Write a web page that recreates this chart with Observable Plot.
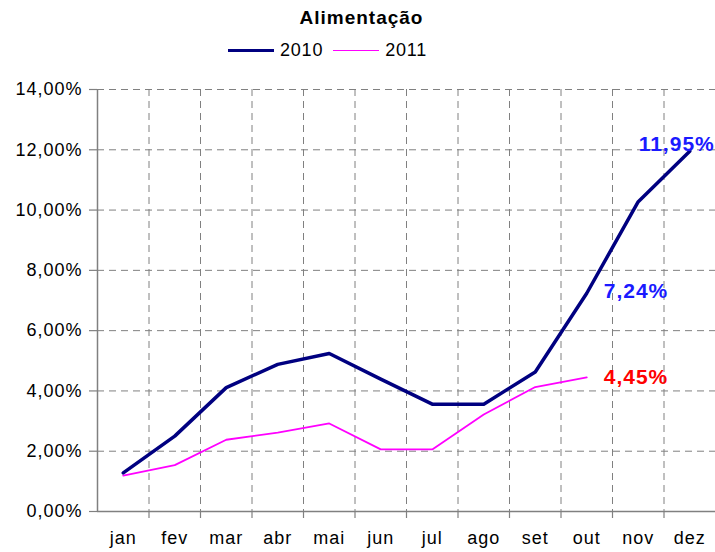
<!DOCTYPE html>
<html><head><meta charset="utf-8">
<script src="https://cdn.jsdelivr.net/npm/d3@7"></script>
<script src="https://cdn.jsdelivr.net/npm/@observablehq/plot@0.6"></script>
<style>
body{margin:0;background:#fff;font-family:"Liberation Sans",Arial,sans-serif;color:#000;}
#wrap{width:715px;position:relative;}
#head{height:70px;position:relative;}
#title{position:absolute;left:4px;width:715px;top:7px;text-align:center;font-weight:bold;font-size:19px;line-height:22px;letter-spacing:1px;}
#legend{position:absolute;top:39px;left:228px;height:22px;display:flex;align-items:center;font-size:18px;line-height:22px;letter-spacing:0.8px;}
.sw{display:inline-block;width:46px;margin-right:6px;}
.lt{margin-right:10px;}
svg text{letter-spacing:1px;}
</style></head><body>
<div id="wrap">
  <div id="head">
    <div id="title">Alimentação</div>
    <div id="legend"></div>
  </div>
  <div id="chart"></div>
</div>
<script>
const months = ["jan","fev","mar","abr","mai","jun","jul","ago","set","out","nov","dez"];
const series = ["2010","2011"];
const v2010 = [1.28,2.50,4.11,4.88,5.24,4.39,3.56,3.56,4.63,7.24,10.28,11.95];
const v2011 = [1.19,1.54,2.38,2.62,2.92,2.06,2.06,3.22,4.13,4.45];
const yTicks = [0,2,4,6,8,10,12,14];
const colors = ["#000080","#ff00ff"];
const widths = [3.5,1.8];
const labelPoints2010 = [11, 9];
const labelPoints2011 = [9];

const fmt = d => d.toFixed(2).replace(".", ",") + "%";
const bounds = d3.range(months.length - 1).map(i => i + 0.5);

const legend = document.getElementById("legend");
series.forEach((s, k) => {
  const sw = document.createElement("span");
  sw.className = "sw";
  sw.style.borderTop = widths[k] + "px solid " + colors[k];
  sw.style.height = "0";
  legend.appendChild(sw);
  const t = document.createElement("span");
  t.className = "lt";
  t.textContent = s;
  legend.appendChild(t);
});

const gridStyle = {stroke:"#808080", strokeOpacity:1, strokeWidth:1, strokeDasharray:"7,5"};

const chart = Plot.plot({
  width: 715, height: 482,
  marginLeft: 97, marginRight: 0, marginTop: 19, marginBottom: 41,
  x: {type: "linear", domain: [-0.5, months.length - 0.5]},
  y: {domain: [0, 14]},
  style: {fontFamily: "Liberation Sans, Arial, sans-serif", fontSize: "18px", color: "#000", background: "#fff"},
  marks: [
    Plot.gridY(yTicks.slice(1), gridStyle),
    Plot.gridX(bounds, gridStyle),
    Plot.ruleX([-0.5], {stroke:"#808080", strokeWidth:1.5}),
    Plot.ruleY([0], {stroke:"#808080", strokeWidth:1.5}),
    Plot.axisY(yTicks, {tickSize:8, tickPadding:7, tickFormat: fmt, stroke:"#808080", strokeWidth:1.2, fontSize:18, label:null}),
    Plot.axisX(bounds, {tickSize:7, tickFormat: () => "", stroke:"#808080", strokeWidth:1.2, label:null}),
    Plot.axisX(d3.range(months.length), {tickSize:0, tickPadding:20, tickFormat: i => months[i], fontSize:18, label:null}),
    Plot.line(v2011, {x:(d,i)=>i, y:d=>d, stroke:colors[1], strokeWidth:widths[1]}),
    Plot.line(v2010, {x:(d,i)=>i, y:d=>d, stroke:colors[0], strokeWidth:widths[0]}),
    Plot.text([labelPoints2010[0]], {x:d=>d, y:d=>v2010[d], text:d=>fmt(v2010[d]), fill:"#1a1aff", fontWeight:"bold", fontSize:21, textAnchor:"end", dx:25, dy:-7}),
    Plot.text([labelPoints2010[1]], {x:d=>d, y:d=>v2010[d], text:d=>fmt(v2010[d]), fill:"#1a1aff", fontWeight:"bold", fontSize:21, textAnchor:"start", dx:17, dy:-2}),
    Plot.text(labelPoints2011, {x:d=>d, y:d=>v2011[d], text:d=>fmt(v2011[d]), fill:"#ff0000", fontWeight:"bold", fontSize:21, textAnchor:"start", dx:17, dy:0})
  ]
});
document.getElementById("chart").appendChild(chart);
</script>
</body></html>
